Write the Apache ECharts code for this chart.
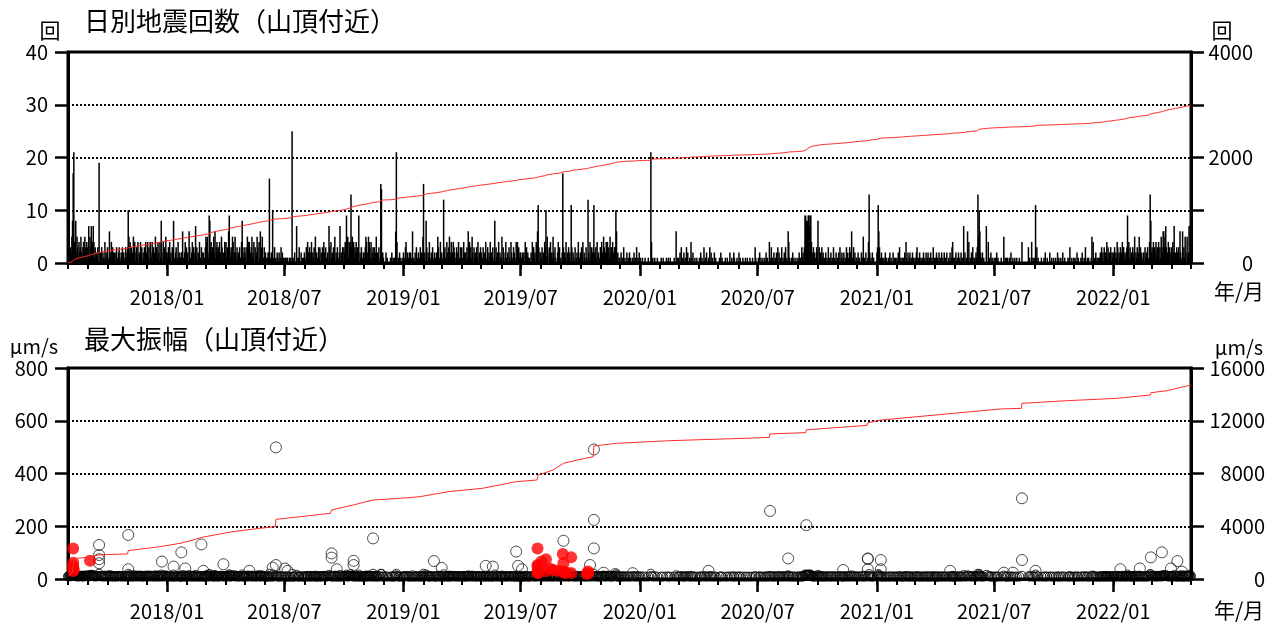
<!DOCTYPE html>
<html><head><meta charset="utf-8">
<script src="https://cdn.jsdelivr.net/npm/echarts@6/dist/echarts.min.js"></script>
<style>html,body{margin:0;padding:0;background:#fff}#chart{width:1275px;height:628px}</style>
</head><body><div id="chart"></div>
<script>
// ---- DATA ----
// One string per month from 2017-08 to 2022-05, one base-36 character per day (daily earthquake count).
const dailyCountByMonth = [
"32413258hl438253142352134253243",
"27153724741302130j021302104120",
"3106214032120231023102130201312",
"3a5241302514023140224130213042",
"2413042140312503142041820413052",
"2130412031810230140211226102413",
"1206310241302713021401320211",
"3545219834231526134231402530214",
"241326931235402520312031048213",
"2130514402351240312530416235013",
"1201122g0120a10301021020130201",
"011011001010p101200701130020101",
"2103142031240213051210313021304",
"203102073041203150213012702130",
"32409251434d3524132423190213012",
"21354125431402313025120301fe02",
"10002010000102010106l4010201001",
"2103402012020160102031020130215",
"f120830214102030120120531041",
"201c231042135214024320130241032",
"310421203162403152031203140213",
"2013021401302140213018031204021",
"150310241020310420132104141312",
"211212041302101020403120416b302",
"21302143a1520314021520310024130",
"102h302140203120b3021030120401",
"203140210310c20413023b203140210",
"314205312424031523142033a61201",
"1020103010020102010010201030102",
"01001000100001000l4010010001000",
"00100100001001001000001006010",
"1020301020103020010410200100100",
"010201003010200103020100201000",
"0010201000010010002001002100010",
"020100010001001000100010003100",
"0102010010010201004103010201020",
"3020103010203010641001020100100",
"102010312039987899799421302103",
"2803120312010201030102010301020",
"102030120120103021032061030201",
"1020100201501020014d20102010000",
"23b6301201010201001020100201010",
"1020301010102041020120102010",
"1023010201010201020120102010301",
"102110201020102010200102013411",
"1020102010201070201060401020301",
"10213d5a6210201000700401020100",
"1010201000010005010101001020010",
"0100100010004000000000301004010",
"10b030100001000102001000200100",
"1001002010010020010000101300100",
"101002010001020010300101000150",
"4010201010120312031224130213021",
"2130214302130241302123924130213",
"12502130251302012031203104d8",
"2314032413240315326635730241302",
"314270213223162016131520512717",
"3"
];
// Typical amplitude (um/s, base-36 char) of the small events forming the dense band, one per day ('0' = none).
const smallAmpByMonth = [
"abcabdegkjdbgaeb9cbadbac9cdbdcb",
"bfaebgbdfc9c0bac0k0bac0b90dab0",
"c90fb9d0ca9b0ac90bca0b9c0a09cab",
"ckead9b0ae9d0bc9d0abd9c0a9b0da",
"ad9c0db9c0c9ae0b9da0c9hb0d9c0ea",
"a9b0c9a0b9h90ab09c0a99baf90ad9c",
"9a0fb90ac9b0ag9b0a9c09ca0a99",
"becda9jhbcab9eaf9bcab9c0adb0a9c",
"ac9bafib9abed0aea0b9a0b90cha9b",
"a9b0d9cc0abd9ac0b9aeb0c9fabd09b",
"9a099abk09a0h90b0c0a90a09b0a09",
"09a099009090k909a00g099b00a0909",
"a90b9ca0b9ac0a9b0d9a90b9b0a9b0c",
"a0b90a0gb0c9a0b9d0a9b09ag0a9b0",
"bac0had9cbcjbdac9bacab9h0a9b09a",
"a9bdc9adcb9c0ak9b0ad9a0b09kj0a",
"9000a09000090a09090ekc090a09009",
"a90bc0a09a0a09e090a0b90a09b0a9d",
"k9a0hb0a9c90a0b09a09a0db90c9",
"a09iab90ca9bda9c0acba09b0ac90ba",
"b90ca9a0b9eac0b9da0b9a0b9c0a9b",
"a09b0a9c09b0a9c0a9b09h0b9a0c0a9",
"9d0b90ac90a0b90ca09ba90c9c9b9a",
"a99a9a0c9b0a9090a0c0b9a0c9ekb0a",
"a9b0a9cbi9da0b9c0a9da0b900ac9b0",
"90akb0a9c0a0b9a0jb0a90b09a0c09",
"a0b9c0a90b90ja0c9b0abka0b9c0a90",
"b9ca0db9acac0b9dab9ca0bbie9a09",
"90a090b0900a090a0900b0a090b090a",
"0900a000900009000kc0900a0009000",
"0090090000a00900900000900e090",
"90a0b090a090b0a0090c90a00900900",
"090a0900b090a0090b0a0900a09000",
"0090a0900009009000a00900a900090",
"0a090009000900900090009000b900",
"090a090090090a0900c90b090a090a0",
"b0a090b090a0b090ec90090a0900900",
"90a090b9a0bhgfeghgehgca9b0a90b",
"ag0b9a0b9a090a090b090a090b090a0",
"90a0b09a09a090b0a90ba0e90b0a09",
"90a0900a09d090a00acja090a090000",
"abjfb09a09090a090090a0900a09090",
"90a0b0909090a0c90a09a090a090",
"90ab090a09090a090a09a090a090b09",
"90a990a090a090a090a0090a09bc99",
"90a090a090a090f0a090e0c090a0b09",
"90a9bkdjea90a09000g00c090a0900",
"9090a0900009000d0909090090a0090",
"090090009000c000000000b0900c090",
"90h0b090000900090a009000a00900",
"900900a0900900a0090000909b00900",
"90900a0900090a0090b009090009d0",
"c090a090909a0b9a0b9aac9b0a9b0a9",
"a9b0a9cb0a9b0ac9b0a9abhac9b0a9b",
"9ad0a9b0ad9b0a09a0b9a0b90cjh",
"ab9c0bac9bac0b9dbaeebdfb0ac9b0a",
"b9caf0a9baab9ea09e9b9da0d9af9f",
"b"
];
// Larger single events (open circles): [date, um/s]
const largeEvents = [
["2017-09-18",129],["2017-09-18",91],["2017-09-18",75],["2017-09-18",60],
["2017-11-02",167],["2017-11-02",37],["2017-12-24",66],["2018-01-11",47],
["2018-01-23",101],["2018-01-29",40],["2018-02-23",131],["2018-02-26",31],
["2018-03-29",56],["2018-05-08",31],["2018-06-13",43],["2018-06-18",499],
["2018-06-18",53],["2018-07-02",40],["2018-07-06",31],["2018-09-12",97],
["2018-09-12",81],["2018-09-20",37],["2018-10-16",69],["2018-10-16",53],
["2018-11-15",154],["2019-02-17",68],["2019-03-01",42],["2019-05-08",50],
["2019-05-19",47],["2019-06-24",104],["2019-06-27",50],["2019-07-03",37],
["2019-09-05",145],["2019-10-16",53],["2019-10-22",491],["2019-10-22",224],
["2019-10-22",116],["2019-11-06",24],["2019-11-24",19],["2019-12-21",22],
["2020-04-16",31],["2020-07-20",258],["2020-08-17",78],["2020-09-14",204],
["2020-11-10",34],["2020-12-18",78],["2020-12-18",76],["2020-12-18",37],
["2021-01-07",72],["2021-01-07",37],["2021-04-24",31],["2021-07-16",24],
["2021-07-30",24],["2021-08-13",306],["2021-08-13",72],["2021-09-03",31],
["2022-01-12",37],["2022-02-11",40],["2022-02-28",82],["2022-03-17",101],
["2022-03-31",40],["2022-04-10",68],["2022-04-17",28]
];
// Events drawn as red filled circles: [date, um/s]
const redEvents = [
["2017-08-09",116],["2017-08-09",62],["2017-08-09",50],["2017-08-09",42],["2017-08-09",30],
["2017-08-10",35],["2017-09-04",69],
["2019-07-27",116],["2019-07-27",53],["2019-07-27",47],["2019-07-27",28],["2019-07-27",23],
["2019-07-29",25],["2019-08-02",66],["2019-08-09",75],["2019-08-09",30],["2019-08-15",40],
["2019-08-20",34],["2019-08-27",31],["2019-09-04",95],["2019-09-04",28],["2019-09-05",60],
["2019-09-07",23],["2019-09-09",25],["2019-09-17",82],["2019-09-17",23],["2019-10-11",19],
["2019-10-13",28],["2019-10-13",22]
];
// Cumulative amplitude (right axis of the lower panel), read at dates
const ampCumDates = ["2017-08-01","2017-08-08","2017-08-10","2017-09-03","2017-09-04","2017-09-18",
"2017-11-01","2017-11-02","2017-12-21","2018-01-21","2018-02-10","2018-02-23","2018-04-03","2018-04-13",
"2018-05-24","2018-06-17","2018-06-18","2018-07-25","2018-09-10","2018-09-12","2018-10-15","2018-11-15",
"2018-12-27","2019-01-26","2019-03-11","2019-05-03","2019-06-24","2019-07-26","2019-07-28","2019-08-20",
"2019-09-05","2019-09-26","2019-10-21","2019-10-22","2019-11-26","2020-01-17","2020-02-17","2020-07-01",
"2020-07-19","2020-07-20","2020-09-13","2020-09-14","2020-12-17","2020-12-18","2021-01-07","2021-07-10",
"2021-08-12","2021-08-13","2021-10-21","2022-01-06","2022-02-27","2022-02-28","2022-03-25","2022-05-01"];
const ampCumValues = [200,500,1550,1650,1750,1830,
1900,2150,2450,2705,2957,3150,3512,3590,
3843,3970,4525,4725,4980,5230,5610,5990,
6118,6240,6620,6877,7380,7506,7885,8264,
8770,9022,9275,10085,10287,10414,10490,10700,
10740,11000,11100,11310,11650,11850,12050,12890,
12940,13320,13520,13700,13950,14125,14280,14710];
// Axis settings
const countAxis = {min: 0, max: 40, interval: 10};
const countCumAxis = {min: 0, max: 4000, interval: 1000, labelEvery: 2000};
const ampAxis = {min: 0, max: 800, interval: 200};
const ampCumAxis = {min: 0, max: 16000, interval: 4000};

// ---- BUILD ----
const cats = [], counts = [], bandPts = [], idx = {};
{
  let t = Date.UTC(2017, 7, 1); const tEnd = Date.UTC(2022, 4, 1);
  for (let i = 0; t <= tEnd; i++, t += 86400000) {
    const d = new Date(t);
    const y = d.getUTCFullYear(), m = d.getUTCMonth(), day = d.getUTCDate();
    const key = y + '-' + String(m + 1).padStart(2, '0') + '-' + String(day).padStart(2, '0');
    cats.push(key); idx[key] = i;
    const mi = (y - 2017) * 12 + (m - 7);
    const cc = (dailyCountByMonth[mi] || '').charAt(day - 1) || '0';
    counts.push(parseInt(cc, 36));
    const ac = (smallAmpByMonth[mi] || '').charAt(day - 1) || '0';
    const a = parseInt(ac, 36);
    if (a > 0) bandPts.push([i, a]);
  }
}
let s = 0;
const cumCounts = counts.map(c => (s += c));
const largePts = largeEvents.map(e => [idx[e[0]], e[1]]);
const redPts = redEvents.map(e => [idx[e[0]], e[1]]);
const ampCum = ampCumDates.map((d, i) => [idx[d], ampCumValues[i]]);

const FONT = "'Noto Sans CJK JP', 'Noto Sans', sans-serif";
const isMonth = (i, v) => v.endsWith('-01');
const isMajor = (i, v) => v.endsWith('-01-01') || v.endsWith('-07-01');
const G = {left: 68, right: 84, height: 211};
const tops = [52, 368];

function minorX(gi) {
  return {type: 'category', gridIndex: gi, data: cats, boundaryGap: false,
    axisLine: {show: true, lineStyle: {color: '#000', width: 3}},
    axisTick: {show: true, interval: isMonth, length: 6, lineStyle: {color: '#000', width: 2}},
    axisLabel: {show: false}, splitLine: {show: false}};
}
function majorX(gi, margin) {
  return {type: 'category', gridIndex: gi, data: cats, boundaryGap: false,
    axisLine: {show: false},
    axisTick: {show: true, interval: isMajor, length: 13, lineStyle: {color: '#000', width: 2.5}},
    axisLabel: {show: true, interval: isMajor, margin: margin, color: '#000', fontSize: 20, fontFamily: FONT,
      formatter: v => v.slice(0, 4) + '/' + v.slice(5, 7)},
    splitLine: {show: false}};
}
function yAx(gi, cfg, pos, margin, split, fmt) {
  return {type: 'value', gridIndex: gi, position: pos, min: cfg.min, max: cfg.max, interval: cfg.interval,
    axisLine: {show: true, lineStyle: {color: '#000', width: 3}},
    axisTick: {show: true, length: 13, lineStyle: {color: '#000', width: 2.5}},
    axisLabel: {show: true, margin: margin, color: '#000', fontSize: 20, fontFamily: FONT, align: 'right',
      formatter: fmt || (v => String(v))},
    splitLine: {show: split, lineStyle: {color: '#000', width: 2, type: [2, 2]}}};
}
const hiddenY = gi => ({type: 'value', gridIndex: gi, show: false});

const txt = (text, x, y, size, align) => ({type: 'text', x: x, y: y, z: 10,
  style: {text: text, fill: '#000', fontSize: size, fontFamily: FONT, align: align || 'center', verticalAlign: 'middle'}});

const option = {
  animation: false,
  backgroundColor: '#fff',
  grid: [
    Object.assign({top: tops[0], show: true, borderColor: '#000', borderWidth: 3}, G),
    Object.assign({top: tops[0], show: false}, G),
    Object.assign({top: tops[1], show: true, borderColor: '#000', borderWidth: 3}, G),
    Object.assign({top: tops[1], show: false}, G)
  ],
  xAxis: [minorX(0), majorX(1, 24), minorX(2), majorX(3, 22)],
  yAxis: [
    yAx(0, countAxis, 'left', 20, true),
    yAx(0, countCumAxis, 'right', 62, false, v => (v % countCumAxis.labelEvery === 0 ? String(v) : '')),
    hiddenY(1),
    yAx(2, ampAxis, 'left', 20, true),
    yAx(2, ampCumAxis, 'right', 74, false),
    hiddenY(3)
  ],
  series: [
    {type: 'bar', xAxisIndex: 0, yAxisIndex: 0, data: counts, barWidth: 1.5, barMinWidth: 1.5,
      itemStyle: {color: '#000'}, z: 2},
    {type: 'line', xAxisIndex: 0, yAxisIndex: 1, data: cumCounts, showSymbol: false, symbol: 'none',
      lineStyle: {color: '#ff2a2a', width: 1}, z: 4},
    {type: 'scatter', xAxisIndex: 2, yAxisIndex: 3, data: bandPts, symbol: 'circle', symbolSize: 9,
      itemStyle: {color: 'rgba(0,0,0,0)', borderColor: '#000', borderWidth: 1}, z: 2},
    {type: 'scatter', xAxisIndex: 2, yAxisIndex: 3, data: largePts, symbol: 'circle', symbolSize: 11,
      itemStyle: {color: 'rgba(0,0,0,0)', borderColor: '#222', borderWidth: 1}, z: 3},
    {type: 'scatter', xAxisIndex: 2, yAxisIndex: 3, data: redPts, symbol: 'circle', symbolSize: 12,
      itemStyle: {color: '#ff0000'}, z: 3},
    {type: 'line', xAxisIndex: 2, yAxisIndex: 4, data: ampCum, showSymbol: false, symbol: 'none',
      lineStyle: {color: '#ff2a2a', width: 1}, z: 4}
  ],
  graphic: [
    txt('日別地震回数（山頂付近）', 84, 21, 26, 'left'),
    txt('最大振幅（山頂付近）', 84, 339, 26, 'left'),
    txt('回', 50, 30, 21),
    txt('回', 1222, 30, 21),
    txt('年/月', 1239, 291, 21),
    txt('μm/s', 34, 346, 20),
    txt('μm/s', 1239, 347, 20),
    txt('年/月', 1239, 610, 21)
  ]
};
echarts.init(document.getElementById('chart')).setOption(option);
</script></body></html>
